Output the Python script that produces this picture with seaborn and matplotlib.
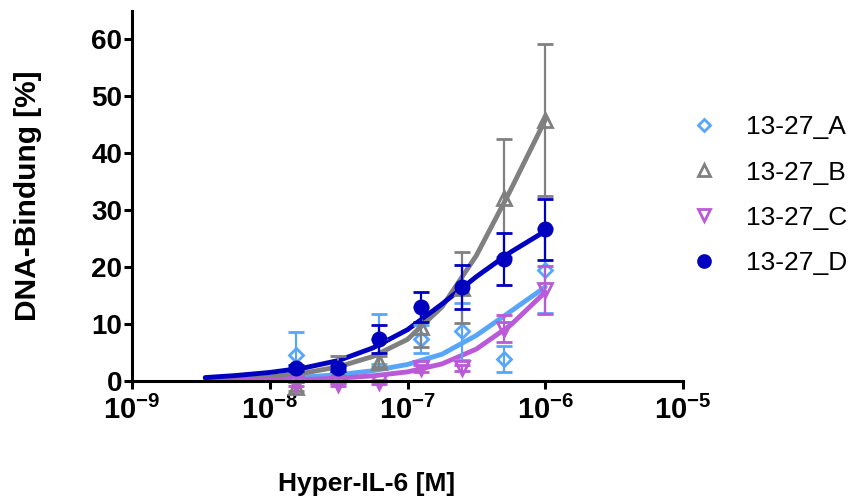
import numpy as np
import pandas as pd
import seaborn as sns
import matplotlib.pyplot as plt
from matplotlib.lines import Line2D

# Konzentrationen (M) der Messpunkte
conc = [1.5625e-8, 3.125e-8, 6.25e-8, 1.25e-7, 2.5e-7, 5e-7, 1e-6]
series = ["13-27_A", "13-27_B", "13-27_C", "13-27_D"]

# Mittelwerte und SD (DNA-Bindung in %)
a_mean = [4.5, 1.5, 7.4, 7.4, 8.7, 3.9, 19.4]
a_sd = [4.1, 1.0, 4.4, 2.5, 5.0, 2.3, 7.5]
b_mean = [-1.0, 2.0, 3.4, 9.5, 16.4, 32.1, 45.8]
b_sd = [0.8, 2.3, 1.0, 3.5, 6.2, 10.3, 13.4]
c_mean = [-0.5, -0.6, -0.2, 2.2, 2.3, 9.2, 16.0]
c_sd = [0.3, 0.3, 0.3, 0.6, 0.5, 2.3, 4.2]
d_mean = [2.3, 2.3, 7.4, 13.0, 16.5, 21.4, 26.6]
d_sd = [0.5, 0.5, 2.4, 2.7, 3.8, 4.5, 5.3]

# Kurvenanpassung
fit_conc = [3.4e-9, 5.6e-9, 1e-8, 1.78e-8, 3.16e-8, 5.6e-8, 1e-7, 1.78e-7, 3.16e-7, 5.6e-7, 1e-6]
a_fit = [0.1, 0.2, 0.4, 0.7, 1.1, 1.8, 2.9, 4.7, 8.0, 12.2, 16.5]
b_fit = [0.1, 0.3, 0.7, 1.4, 2.5, 4.3, 7.3, 13.0, 22.0, 33.5, 45.8]
c_fit = [0.0, 0.05, 0.1, 0.25, 0.5, 0.9, 1.6, 3.0, 5.6, 9.8, 15.6]
d_fit = [0.6, 0.95, 1.5, 2.3, 3.6, 5.8, 9.0, 13.5, 18.3, 22.6, 26.3]

x_ticks = [1e-9, 1e-8, 1e-7, 1e-6, 1e-5]
x_tick_labels = [r"$\mathbf{10^{-9}}$", r"$\mathbf{10^{-8}}$", r"$\mathbf{10^{-7}}$",
                 r"$\mathbf{10^{-6}}$", r"$\mathbf{10^{-5}}$"]
y_ticks = [0, 10, 20, 30, 40, 50, 60]

colors = {"13-27_A": "#58A6FA", "13-27_B": "#808080", "13-27_C": "#BB5AD8", "13-27_D": "#0000BE"}
markers = {"13-27_A": "D", "13-27_B": "^", "13-27_C": "v", "13-27_D": "o"}
sizes = {"13-27_A": 7.2, "13-27_B": 10, "13-27_C": 10, "13-27_D": 9.5}

sns.set_style("ticks")
plt.rcParams["font.family"] = ["Liberation Sans", "DejaVu Sans"]
plt.rcParams["mathtext.fontset"] = "custom"
plt.rcParams["mathtext.rm"] = "Liberation Sans:bold"
plt.rcParams["mathtext.bf"] = "Liberation Sans:bold"
for key in ["text.color", "axes.labelcolor", "xtick.color", "ytick.color", "axes.edgecolor"]:
    plt.rcParams[key] = "black"

fig = plt.figure(figsize=(8.53, 4.99), dpi=100)
ax = fig.add_axes([132 / 853, 1 - 381 / 499, 551 / 853, 370.5 / 499])
ax.set_xscale("log")

# Kurven
fits = pd.DataFrame({
    "conc": fit_conc * 4,
    "value": a_fit + b_fit + c_fit + d_fit,
    "series": np.repeat(series, len(fit_conc)),
})
sns.lineplot(data=fits, x="conc", y="value", hue="series", palette=colors,
             linewidth=3.5, estimator=None, legend=False, ax=ax, zorder=2)

# Messpunkte mit Fehlerbalken
means = {"13-27_A": a_mean, "13-27_B": b_mean, "13-27_C": c_mean, "13-27_D": d_mean}
sds = {"13-27_A": a_sd, "13-27_B": b_sd, "13-27_C": c_sd, "13-27_D": d_sd}
for i, s in enumerate(series):
    filled = s == "13-27_D"
    eb = ax.errorbar(conc, means[s], yerr=sds[s], fmt=markers[s], color=colors[s],
                     mfc=colors[s] if filled else "none", mec=colors[s],
                     ms=sizes[s], mew=2.0, elinewidth=1.6, capsize=5.5, capthick=1.6,
                     zorder=3 + i)
    for art in eb.get_children():
        art.set_clip_on(False)

ax.set_xlim(1e-9, 1e-5)
ax.set_ylim(0, 65)
ax.set_xticks(x_ticks)
ax.set_xticklabels(x_tick_labels)
ax.minorticks_off()
ax.set_yticks(y_ticks)
ax.tick_params(axis="both", direction="out", length=6, width=2.2)
ax.tick_params(axis="x", pad=5, labelsize=21)
ax.tick_params(axis="y", pad=1, labelsize=20)
for lab in ax.get_yticklabels():
    lab.set_fontweight("bold")

sns.despine(ax=ax)
for sp in ["left", "bottom"]:
    ax.spines[sp].set_linewidth(2.2)
    ax.spines[sp].set_zorder(10)

ax.set_xlabel("Hyper-IL-6 [M]", fontsize=19, fontweight="bold", va="top")
ax.xaxis.set_label_coords(0.425, -0.245)
ax.set_ylabel("DNA-Bindung [%]", fontsize=21.5, fontweight="bold")
ax.yaxis.set_label_coords(-0.163, 0.5)

handles = [Line2D([], [], marker=markers[s], linestyle="none", color=colors[s],
                  mfc=colors[s] if s == "13-27_D" else "none", mec=colors[s],
                  ms=sizes[s] * 0.9, mew=2.0) for s in series]
ax.legend(handles, series, loc="center left", bbox_to_anchor=(0.81, 0.609),
          bbox_transform=fig.transFigure, frameon=False, fontsize=19,
          handlelength=1.0, handletextpad=1.1, labelspacing=0.8, borderpad=0,
          borderaxespad=0)

fig.savefig("out.png", dpi=100)
